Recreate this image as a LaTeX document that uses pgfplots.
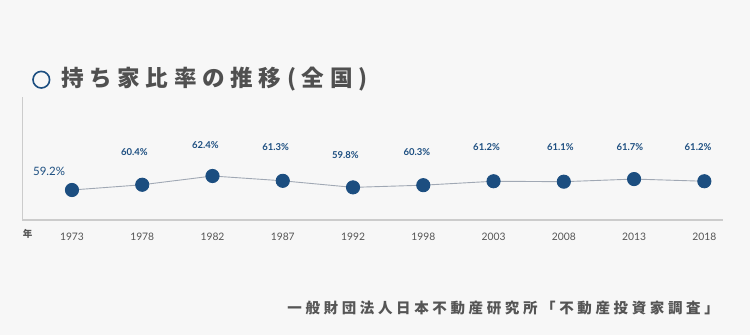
\documentclass[border=0pt]{standalone}
\usepackage{fontspec}
\usepackage{pgfplots}
\pgfplotsset{compat=1.18}
\setmainfont{Lato}
\newfontfamily\cjk[LetterSpace=25]{Noto Sans CJK JP}
\newfontfamily\cjksrc[LetterSpace=25]{Noto Sans CJK JP}
\definecolor{bgcol}{HTML}{F7F7F7}
\definecolor{navy}{HTML}{1C4E80}
\definecolor{linegray}{HTML}{A0A8B4}
\definecolor{axgray}{HTML}{CCCCCC}
\definecolor{txtgray}{HTML}{555555}
\definecolor{titlegray}{HTML}{505050}
\begin{document}
\begin{tikzpicture}[x=1bp,y=1bp]
\fill[bgcol] (0,0) rectangle (750,335);
\useasboundingbox (0,0) rectangle (750,335);
% title
\draw[navy, line width=1.6bp] (41.3,255.3) circle (8.3);
\node[anchor=west, text=titlegray, font={\cjk\bfseries\fontsize{22.6bp}{25bp}\selectfont}, inner sep=0] at (61,256) {持ち家比率の推移(全国)};
% source
\node[anchor=east, text=txtgray, font={\cjksrc\bfseries\fontsize{14.5bp}{17bp}\selectfont}, inner sep=0] at (719,26.5) {一般財団法人日本不動産研究所「不動産投資家調査」};
% year label
\node[text=txtgray, font={\cjk\bfseries\fontsize{9.5bp}{11bp}\selectfont}, inner sep=0] at (27.5,101) {年};
\begin{axis}[
  at={(22.3bp,115bp)}, anchor=south west,
  scale only axis, width=701bp, height=123bp,
  xmin=-0.707, xmax=9.27, ymin=52.343, ymax=80.457,
  axis x line*=bottom, axis y line*=left,
  axis line style={draw=axgray, line width=1.6bp, -},
  ytick=\empty,
  xtick={0,1,2,3,4,5,6,7,8,9},
  xticklabels={1973,1978,1982,1987,1992,1998,2003,2008,2013,2018},
  major tick length=0pt,
  xticklabel style={text=txtgray, font=\fontsize{10.3bp}{12bp}\selectfont, yshift=-10bp},
  clip=false,
]
\addplot[color=linegray, line width=0.9bp, mark=*, mark size=6.6bp,
  mark options={fill=navy, draw=navy}] coordinates {
  (0,59.2) (1,60.4) (2,62.4) (3,61.3) (4,59.8) (5,60.3) (6,61.2) (7,61.1) (8,61.7) (9,61.2)};
\tikzset{lab/.style={text=navy, font=\bfseries\fontsize{9.5bp}{11bp}\selectfont, inner sep=0}}
\node[text=navy, font=\fontsize{11.5bp}{13bp}\selectfont, inner sep=0] at (axis cs:-0.326,63.54) {59.2\%};
\node[lab] at (axis cs:0.888,67.89) {60.4\%};
\node[lab] at (axis cs:1.9,69.49) {62.4\%};
\node[lab] at (axis cs:2.9,68.91) {61.3\%};
\node[lab] at (axis cs:3.89,67.2) {59.8\%};
\node[lab] at (axis cs:4.91,67.89) {60.3\%};
\node[lab] at (axis cs:5.9,68.91) {61.2\%};
\node[lab] at (axis cs:6.95,68.91) {61.1\%};
\node[lab] at (axis cs:7.94,68.91) {61.7\%};
\node[lab] at (axis cs:8.91,68.91) {61.2\%};
\end{axis}
\end{tikzpicture}
\end{document}
